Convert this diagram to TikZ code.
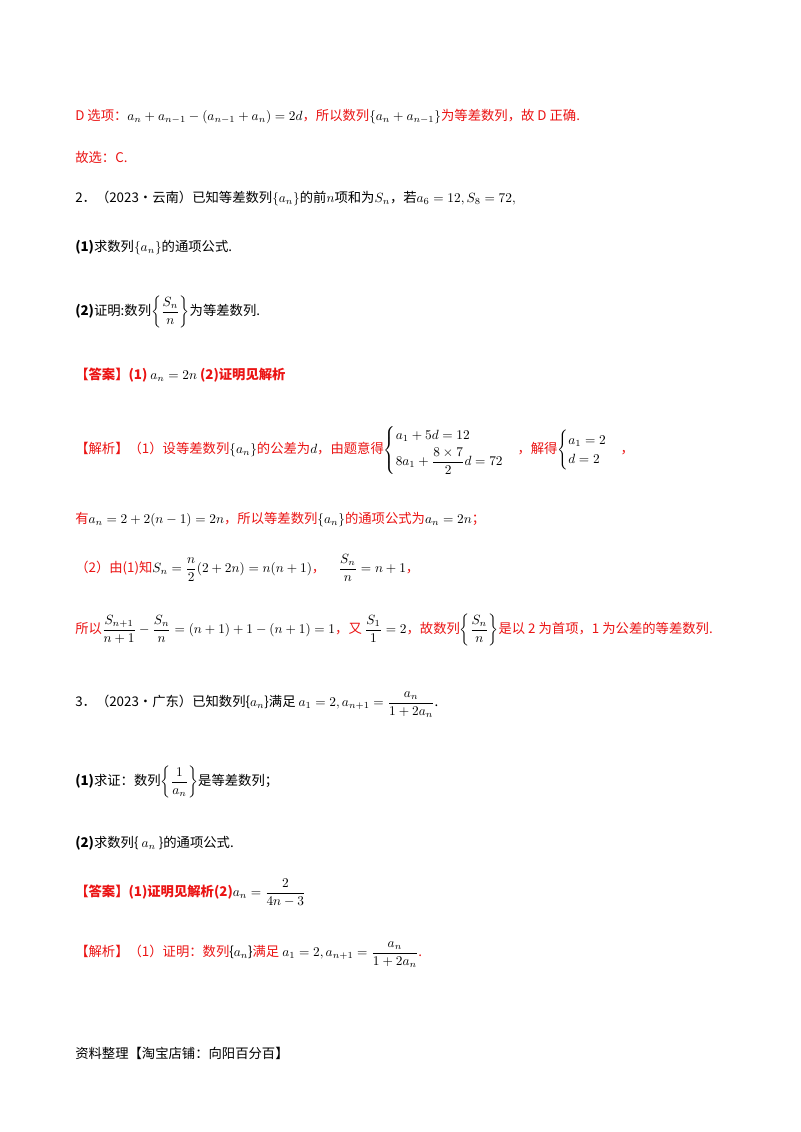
\documentclass[tikz,border=0pt]{standalone}
\usepackage{amsmath}
\usepackage{fontspec}
\setmainfont{Noto Sans CJK SC}
\definecolor{rd}{RGB}{235,20,20}
\newcommand{\rt}[1]{\textcolor{rd}{#1}}
\begin{document}
\begin{tikzpicture}[x=0.75pt,y=-0.75pt,
  ln/.style={anchor=west,inner sep=0pt,font=\fontsize{10}{12}\selectfont}]
\useasboundingbox[fill=white] (0,0) rectangle (800,1132);
\node[ln] (l1) at (75,117) {\rt{D 选项：}$a_n+a_{n-1}-\left(a_{n-1}+a_n\right)=2d$\rt{，所以数列}$\left\{a_n+a_{n-1}\right\}$\rt{为等差数列，故 D 正确.}};
\node[ln] (l2) at (75,157) {\rt{故选：C.}};
\node[ln] (l3) at (75,198) {2．（2023·云南）已知等差数列$\left\{a_n\right\}$的前$n$项和为$S_n$，若$a_6=12,S_8=72,$};
\node[ln] (l4) at (75,248) {\textbf{(1)}求数列$\left\{a_n\right\}$的通项公式.};
\node[ln] (l5) at (75,312) {\textbf{(2)}证明:数列$\left\{\dfrac{S_n}{n}\right\}$为等差数列.};
\node[ln] (l6) at (75,375) {\rt{\textbf{【答案】(1)}} $a_n=2n$ \rt{\textbf{(2)证明见解析}}};
\node[ln] (l7) at (75,450) {\rt{【解析】（1）设等差数列}$\{a_n\}$\rt{的公差为}$d$\rt{，由题意得}$\begin{cases}a_1+5d=12\\[2pt] 8a_1+\dfrac{8\times7}{2}d=72\end{cases}$\rt{，解得}$\begin{cases}a_1=2\\ d=2\end{cases}$\rt{，}};
\node[ln] (l8) at (75,520) {\rt{有}$a_n=2+2(n-1)=2n$\rt{，所以等差数列}$\{a_n\}$\rt{的通项公式为}$a_n=2n$\rt{；}};
\node[ln] (l9) at (75,568) {\rt{（2）由(1)知}$S_n=\dfrac{n}{2}(2+2n)=n(n+1)$\rt{，}\quad$\dfrac{S_n}{n}=n+1$\rt{，}};
\node[ln] (l10) at (75,630) {\rt{所以}$\dfrac{S_{n+1}}{n+1}-\dfrac{S_n}{n}=(n+1)+1-(n+1)=1$\rt{，又}\ $\dfrac{S_1}{1}=2$\rt{，故数列}$\left\{\dfrac{S_n}{n}\right\}$\rt{是以 2 为首项，1 为公差的等差数列.}};
\node[ln] (l11) at (75,705) {3．（2023·广东）已知数列\{$a_n$\}满足\ $a_1=2,a_{n+1}=\dfrac{a_n}{1+2a_n}$.};
\node[ln] (l12) at (75,782) {\textbf{(1)}求证：数列$\left\{\dfrac{1}{a_n}\right\}$是等差数列；};
\node[ln] (l13) at (75,843) {\textbf{(2)}求数列\{\ $a_n$\ \}的通项公式.};
\node[ln] (l14) at (75,893) {\rt{\textbf{【答案】(1)证明见解析(2)}}$a_n=\dfrac{2}{4n-3}$};
\node[ln] (l15) at (75,955) {\rt{【解析】（1）证明：数列}\{$a_n$\}\rt{满足}\ $a_1=2,a_{n+1}=\dfrac{a_n}{1+2a_n}$\rt{.}};
\node[ln] (l16) at (75,1053) {资料整理【淘宝店铺：向阳百分百】};
\end{tikzpicture}
\end{document}
